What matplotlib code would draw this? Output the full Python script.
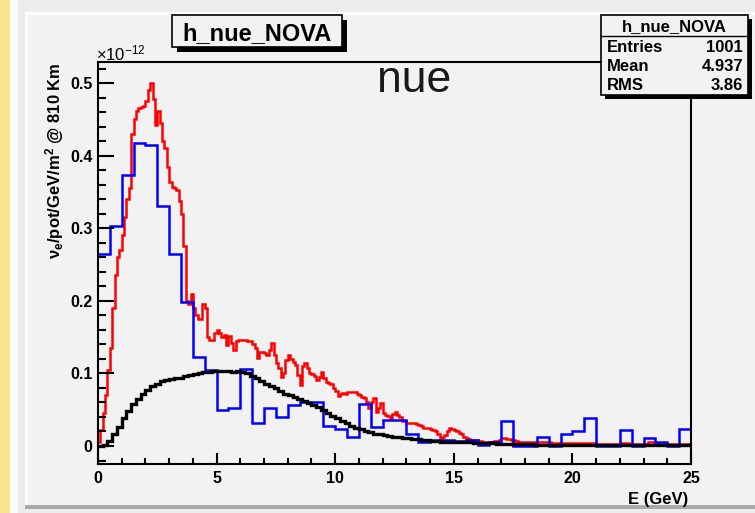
import numpy as np
import matplotlib
matplotlib.use("Agg")
import matplotlib.pyplot as plt
from matplotlib.patches import Rectangle
from matplotlib.lines import Line2D
from matplotlib.ticker import MultipleLocator, FuncFormatter

# flux values in units of 1e-12 nu_e/pot/GeV/m^2
# red: 0.1 GeV bins, 0 - 25 GeV
red_flux = [
    0.005, 0.022, 0.045, 0.070, 0.105, 0.135, 0.190, 0.235, 0.260, 0.270,
    0.290, 0.315, 0.340, 0.355, 0.430, 0.450, 0.462, 0.466, 0.467, 0.468,
    0.475, 0.490, 0.500, 0.478, 0.442, 0.462, 0.445, 0.420, 0.410, 0.385,
    0.364, 0.357, 0.355, 0.352, 0.338, 0.320, 0.275, 0.200, 0.195, 0.210,
    0.190, 0.180, 0.175, 0.175, 0.195, 0.190, 0.150, 0.146, 0.146, 0.155,
    0.160, 0.155, 0.150, 0.153, 0.139, 0.152, 0.142, 0.132, 0.144, 0.146,
    0.146, 0.146, 0.146, 0.145, 0.144, 0.140, 0.135, 0.121, 0.130, 0.130,
    0.128, 0.125, 0.132, 0.142, 0.125, 0.115, 0.107, 0.095, 0.100, 0.118,
    0.125, 0.120, 0.116, 0.112, 0.098, 0.084, 0.110, 0.114, 0.108, 0.100,
    0.099, 0.097, 0.091, 0.095, 0.102, 0.094, 0.088, 0.087, 0.085, 0.080,
    0.076, 0.069, 0.072, 0.073, 0.072, 0.074, 0.075, 0.075, 0.074, 0.072,
    0.070, 0.068, 0.066, 0.061, 0.052, 0.060, 0.066, 0.047, 0.052, 0.059,
    0.045, 0.043, 0.041, 0.039, 0.044, 0.047, 0.043, 0.040, 0.035, 0.034,
    0.032, 0.031, 0.031, 0.031, 0.030, 0.029, 0.027, 0.025, 0.025, 0.025,
    0.023, 0.022, 0.020, 0.016, 0.011, 0.012, 0.015, 0.020, 0.025, 0.024,
    0.022, 0.020, 0.018, 0.016, 0.013, 0.011, 0.009, 0.008, 0.008, 0.008,
    0.007, 0.007, 0.006, 0.006, 0.005, 0.005, 0.006, 0.007, 0.007, 0.008,
    0.011, 0.011, 0.010, 0.009, 0.008, 0.008, 0.007, 0.006, 0.006, 0.006,
    0.005, 0.005, 0.005, 0.005, 0.005, 0.005, 0.005, 0.005, 0.005, 0.005,
    0.005, 0.004, 0.004, 0.004, 0.004, 0.004, 0.004, 0.004, 0.004, 0.004,
    0.004, 0.004, 0.004, 0.004, 0.004, 0.004, 0.004, 0.004, 0.004, 0.004,
    0.003, 0.003, 0.003, 0.003, 0.003, 0.003, 0.003, 0.003, 0.003, 0.003,
    0.004, 0.004, 0.004, 0.004, 0.003, 0.003, 0.003, 0.003, 0.003, 0.003,
    0.003, 0.003, 0.005, 0.005, 0.005, 0.004, 0.003, 0.003, 0.003, 0.003,
    0.003, 0.003, 0.003, 0.003, 0.003, 0.003, 0.003, 0.003, 0.003, 0.003,
]

# blue: 0.5 GeV bins
blue_flux = [
    0.264, 0.303, 0.373, 0.418, 0.414, 0.331, 0.264, 0.199, 0.122, 0.105,
    0.049, 0.052, 0.106, 0.032, 0.052, 0.040, 0.056, 0.060, 0.060, 0.028,
    0.024, 0.013, 0.058, 0.026, 0.036, 0.036, 0.017, 0.005, 0.008, 0.008,
    0.007, 0.008, 0.002, 0.006, 0.035, 0.000, 0.000, 0.013, 0.000, 0.016,
    0.020, 0.038, 0.000, 0.000, 0.022, 0.000, 0.011, 0.005, 0.000, 0.024,
]

# black (h_nue_NOVA): 0.2 GeV bins
black_flux = [
    0.000, 0.001, 0.007, 0.016, 0.026, 0.038, 0.048, 0.058, 0.065, 0.071,
    0.077, 0.083, 0.086, 0.089, 0.091, 0.092, 0.093, 0.094, 0.096, 0.098,
    0.099, 0.101, 0.102, 0.102, 0.104, 0.104, 0.103, 0.104, 0.102, 0.103,
    0.102, 0.100, 0.097, 0.093, 0.089, 0.086, 0.083, 0.080, 0.076, 0.072,
    0.070, 0.068, 0.065, 0.062, 0.059, 0.056, 0.054, 0.050, 0.045, 0.042,
    0.038, 0.035, 0.032, 0.028, 0.025, 0.023, 0.021, 0.019, 0.017, 0.016,
    0.015, 0.014, 0.013, 0.012, 0.011, 0.011, 0.010, 0.009, 0.008, 0.008,
    0.007, 0.007, 0.006, 0.006, 0.006, 0.005, 0.005, 0.005, 0.005, 0.004,
    0.004, 0.004, 0.004, 0.004, 0.003, 0.003, 0.003, 0.003, 0.003, 0.003,
    0.003, 0.003, 0.002, 0.002, 0.002, 0.002, 0.002, 0.002, 0.002, 0.002,
    0.002, 0.002, 0.002, 0.002, 0.002, 0.002, 0.002, 0.002, 0.002, 0.002,
    0.002, 0.002, 0.002, 0.002, 0.002, 0.001, 0.001, 0.001, 0.001, 0.001,
    0.001, 0.001, 0.001, 0.001, 0.001,
]

x_ticks = [0, 5, 10, 15, 20, 25]
y_ticks = [0, 0.1, 0.2, 0.3, 0.4, 0.5]
stats_names = ["Entries", "Mean", "RMS"]
stats_values = ["1001", "4.937", "3.86"]

W, H = 755, 513


def fx(px):
    return px / W


def fy(py):
    return 1 - py / H


def rect(x0, y0, x1, y1, **kw):
    r = Rectangle((fx(x0), fy(y1)), fx(x1) - fx(x0), fy(y0) - fy(y1),
                  transform=fig.transFigure, **kw)
    fig.add_artist(r)
    return r


plt.rcParams["font.family"] = ["Liberation Sans", "DejaVu Sans"]
plt.rcParams["font.weight"] = "bold"
plt.rcParams["mathtext.default"] = "regular"

fig = plt.figure(figsize=(7.55, 5.13), dpi=100, facecolor="#ececec")

# canvas decoration (left strip, bevels)
rect(0, 0, 10, H, facecolor="#fbe594", edgecolor="none", zorder=-5)
rect(10, 0, 18, H, facecolor="#fbfbfb", edgecolor="none", zorder=-5)
rect(25, 12, W, 508, facecolor="#ffffff", edgecolor="none", zorder=-4)
rect(28, 15, W, 505, facecolor="#f2f2f2", edgecolor="none", zorder=-3)
rect(25, 505, W, 509, facecolor="#a9a9a9", edgecolor="none", zorder=-3)

ax = fig.add_axes([fx(98), fy(464), fx(691) - fx(98), fy(62) - fy(464)])
ax.set_facecolor("#f2f2f2")

red_edges = np.linspace(0, 25, len(red_flux) + 1)
blue_edges = np.linspace(0, 25, len(blue_flux) + 1)
black_edges = np.linspace(0, 25, len(black_flux) + 1)

ax.stairs(red_flux, red_edges, baseline=None, color="#ff0000", lw=1.8)
ax.stairs(blue_flux, blue_edges, baseline=None, color="#0000ff", lw=1.8)
ax.stairs(black_flux, black_edges, baseline=None, color="black", lw=2.4)

ax.set_xlim(0, 25)
ax.set_ylim(-0.0248, 0.529)

ax.set_xticks(x_ticks)
ax.xaxis.set_minor_locator(MultipleLocator(1))
ax.set_yticks(y_ticks)
ax.yaxis.set_minor_locator(MultipleLocator(0.02))
ax.yaxis.set_major_formatter(FuncFormatter(lambda v, p: "0" if abs(v) < 1e-9 else f"{v:.1f}"))
ax.xaxis.set_major_formatter(FuncFormatter(lambda v, p: f"{v:.0f}"))

ax.tick_params(which="both", direction="in", top=False, right=False, width=1.5,
               labelsize=11.5)
ax.tick_params(axis="y", which="major", length=11.5, pad=4)
ax.tick_params(axis="y", which="minor", length=5.8)
ax.tick_params(axis="x", which="major", length=8, pad=5)
ax.tick_params(axis="x", which="minor", length=4)
for s in ax.spines.values():
    s.set_linewidth(1.5)

ax.text(0.533, 0.925, "nue", transform=ax.transAxes, ha="center", va="baseline",
        fontsize=32, fontweight="normal", color="#1a1a1a")

fig.text(fx(688), fy(504), "E (GeV)", ha="right", va="baseline", fontsize=12)
fig.text(fx(55), fy(62), "ν$_{e}$/pot/GeV/m$^{2}$ @ 810 Km", rotation=90,
         ha="center", va="top", fontsize=12)
fig.text(fx(96), fy(60), "×10$^{-12}$", ha="left", va="baseline", fontsize=12,
         fontweight="normal")

# title box
rect(177, 20, 347, 52, facecolor="black", edgecolor="none", zorder=4)
rect(172, 15, 342, 47, facecolor="#f2f2f2", edgecolor="black", lw=1.2, zorder=5)
fig.text(fx(257), fy(40), "h_nue_NOVA", ha="center", va="baseline", fontsize=17, zorder=6)

# stats box
rect(605, 19, 752, 99, facecolor="black", edgecolor="none", zorder=4)
rect(601, 15, 748, 95, facecolor="#f2f2f2", edgecolor="black", lw=1.2, zorder=5)
fig.add_artist(Line2D([fx(601), fx(748)], [fy(36), fy(36)], transform=fig.transFigure,
                      color="black", lw=1.0, zorder=6))
fig.text(fx(674.5), fy(31), "h_nue_NOVA", ha="center", va="baseline", fontsize=12, zorder=6)
for i, (name, val) in enumerate(zip(stats_names, stats_values)):
    yb = 52 + i * 19
    fig.text(fx(607), fy(yb), name, ha="left", va="baseline", fontsize=12, zorder=6)
    fig.text(fx(743), fy(yb), val, ha="right", va="baseline", fontsize=12, zorder=6)

fig.savefig("out.png", dpi=100, facecolor=fig.get_facecolor())
